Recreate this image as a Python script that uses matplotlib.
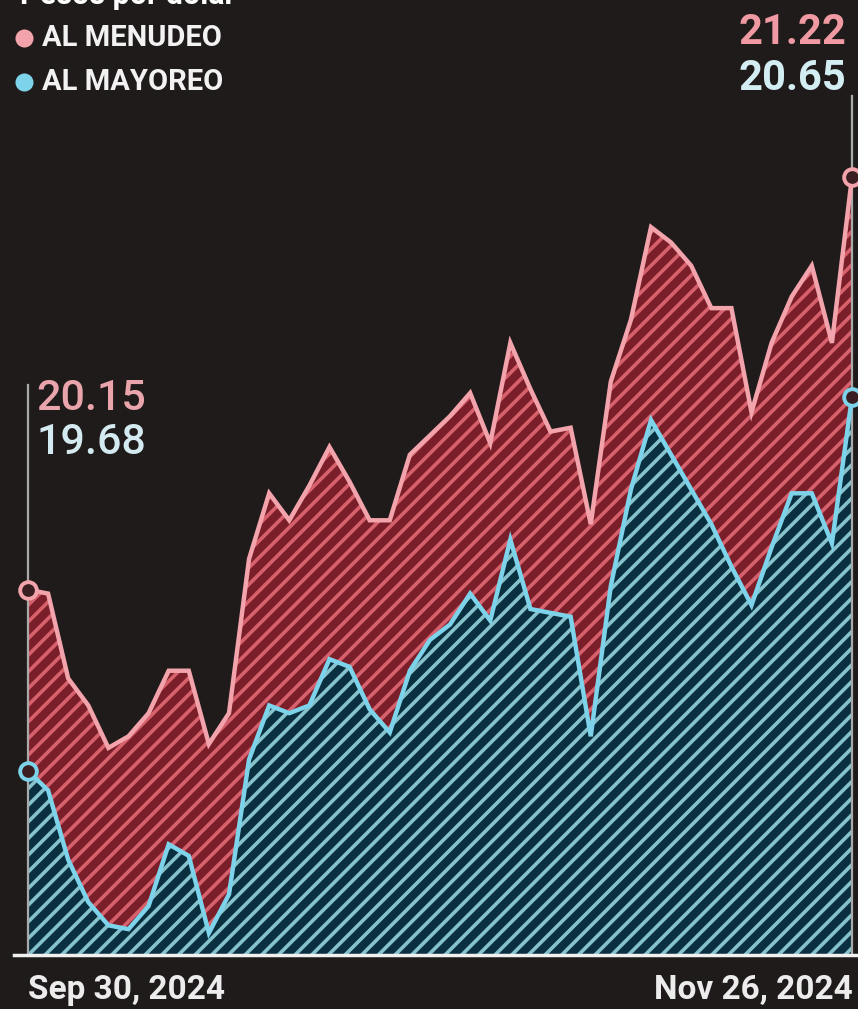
import numpy as np
import pandas as pd
import matplotlib
matplotlib.use("Agg")
import matplotlib.pyplot as plt

# Peso per dollar, business days Sep 30 - Nov 26, 2024
dates = pd.bdate_range("2024-09-30", "2024-11-26")

menudeo = [20.15, 20.14, 19.92, 19.85, 19.74, 19.77, 19.83, 19.94, 19.94, 19.75,
           19.83, 20.23, 20.40, 20.33, 20.42, 20.52, 20.43, 20.33, 20.33, 20.50,
           20.55, 20.60, 20.66, 20.53, 20.79, 20.67, 20.56, 20.57, 20.32, 20.69,
           20.85, 21.09, 21.05, 20.99, 20.88, 20.88, 20.61, 20.79, 20.91, 20.99,
           20.79, 21.22]

mayoreo = [19.68, 19.63, 19.45, 19.34, 19.28, 19.27, 19.33, 19.49, 19.46, 19.26,
           19.36, 19.71, 19.85, 19.83, 19.85, 19.97, 19.95, 19.84, 19.78, 19.94,
           20.02, 20.06, 20.14, 20.07, 20.28, 20.10, 20.09, 20.08, 19.77, 20.16,
           20.41, 20.59, 20.50, 20.41, 20.32, 20.21, 20.11, 20.26, 20.40, 20.40,
           20.27, 20.65]

series_names = ["AL MENUDEO", "AL MAYOREO"]
date_labels = ["Sep 30, 2024", "Nov 26, 2024"]

BG = "#201b1b"
PINK = "#f3a3ab"
PINK_FILL = "#7a1f2a"
PINK_HATCH = "#d6616c"
BLUE = "#7dd3ea"
BLUE_FILL = "#0a2f3f"
BLUE_HATCH = "#86c2cc"

W, H = 858, 1009
plt.rcParams['font.family'] = ['Roboto', 'DejaVu Sans']
plt.rcParams['hatch.linewidth'] = 2.6

fig = plt.figure(figsize=(W / 100, H / 100), dpi=100, facecolor=BG)


def fx(px):
    return px / W


def fy(py):
    return 1 - py / H


# trading days are evenly spaced in the chart
x = np.arange(len(dates))

# plot area: x 28..852, y 150..955 px
ax = fig.add_axes([fx(28), fy(955), fx(852) - fx(28), fy(150) - fy(955)])
ax.set_facecolor(BG)
ymin = 19.203
ax.set_xlim(x[0], x[-1])
ax.set_ylim(ymin, 21.29)
ax.axis("off")

# filled hatched areas
ax.fill_between(x, menudeo, ymin, facecolor=PINK_FILL, linewidth=0, zorder=1)
ax.fill_between(x, menudeo, ymin, facecolor="none", edgecolor=PINK_HATCH,
                hatch="//", linewidth=0, zorder=1.1)
ax.fill_between(x, mayoreo, ymin, facecolor=BLUE_FILL, linewidth=0, zorder=2)
ax.fill_between(x, mayoreo, ymin, facecolor="none", edgecolor=BLUE_HATCH,
                hatch="//", linewidth=0, zorder=2.1)

# leader lines at both ends
ax.plot([x[0], x[0]], [ymin, 20.68], color="#a9a9a9", lw=1.6,
        clip_on=False, zorder=3)
ax.plot([x[-1], x[-1]], [ymin, 21.43], color="#a9a9a9", lw=1.6,
        clip_on=False, zorder=3)

ax.plot(x, menudeo, color=PINK, lw=3.2, solid_joinstyle="miter",
        clip_on=False, zorder=4)
ax.plot(x, mayoreo, color=BLUE, lw=3.2, solid_joinstyle="miter",
        clip_on=False, zorder=5)

# open end markers
for vals, col in [(menudeo, PINK), (mayoreo, BLUE)]:
    ax.plot([x[0], x[-1]], [vals[0], vals[-1]], "o", ms=12, mfc="#3a1e22",
            mec=col, mew=2.8, clip_on=False, zorder=6)

# baseline
fig.add_artist(plt.Line2D([fx(14), fx(858)], [fy(955), fy(955)], color="#f0f0f0",
                          lw=2.5))

# title (cut off at top, as in the source) and legend
fig.text(fx(20), fy(4), "Pesos por dólar", color="white", fontsize=22,
         fontweight="bold", va="baseline", ha="left")
for name, col, py in [(series_names[0], PINK, 38), (series_names[1], BLUE, 82)]:
    fig.add_artist(plt.Line2D([fx(24)], [fy(py)], marker="o", ms=13, color=col,
                              mec="none"))
    fig.text(fx(42), fy(py), name, color="#f2f2f2", fontsize=21,
             fontweight="bold", va="center", ha="left")

# value labels
fig.text(fx(846), fy(32), f"{menudeo[-1]:.2f}", color="#ef9aa3", fontsize=30,
         fontweight="bold", va="center", ha="right")
fig.text(fx(846), fy(78), f"{mayoreo[-1]:.2f}", color="#d3eef3", fontsize=30,
         fontweight="bold", va="center", ha="right")
fig.text(fx(36), fy(398), f"{menudeo[0]:.2f}", color="#eaa4ac", fontsize=31,
         fontweight="medium", va="center", ha="left")
fig.text(fx(36), fy(442), f"{mayoreo[0]:.2f}", color="#d3eaf0", fontsize=31,
         fontweight="medium", va="center", ha="left")

# date labels
fig.text(fx(28), fy(990), date_labels[0], color="#ececec", fontsize=24,
         fontweight="bold", va="center", ha="left")
fig.text(fx(853), fy(990), date_labels[1], color="#ececec", fontsize=24,
         fontweight="bold", va="center", ha="right")

fig.savefig("out.png", dpi=100, facecolor=BG)
